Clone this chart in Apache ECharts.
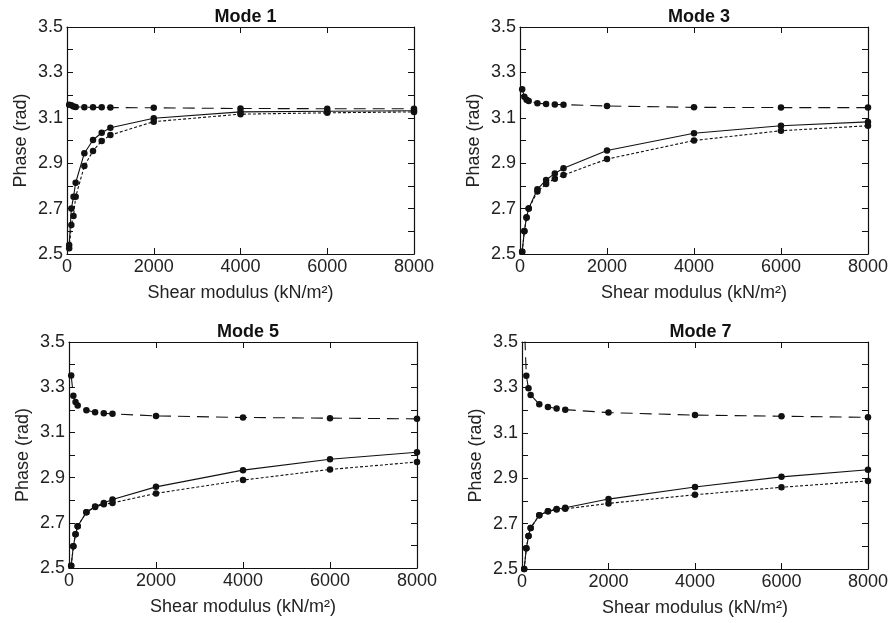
<!DOCTYPE html>
<html>
<head>
<meta charset="utf-8">
<script src="https://cdn.jsdelivr.net/npm/echarts@6/dist/echarts.min.js"></script>
<style>
  html, body { margin: 0; padding: 0; background: #fff; }
  #chart { width: 891px; height: 623px; }
</style>
</head>
<body>
<div id="chart"></div>
<script>
// shear modulus values (kN/m2)
var shearModulus = [50, 100, 150, 200, 400, 600, 800, 1000, 2000, 4000, 6000, 8000];
var modeTitles = ['Mode 1', 'Mode 3', 'Mode 5', 'Mode 7'];
var xTicks = [0, 2000, 4000, 6000, 8000];
var yTickLabels = ['2.5', '2.7', '2.9', '3.1', '3.3', '3.5'];

// phase (rad): long dash / solid / short dash
var mode1Dashed = [3.158, 3.155, 3.150, 3.148, 3.147, 3.146, 3.146, 3.145, 3.144, 3.141, 3.140, 3.140];
var mode1Solid  = [2.540, 2.700, 2.752, 2.814, 2.944, 3.002, 3.034, 3.056, 3.098, 3.126, 3.129, 3.131];
var mode1Dotted = [2.525, 2.628, 2.667, 2.752, 2.888, 2.954, 2.998, 3.024, 3.083, 3.116, 3.122, 3.126];

var mode3Dashed = [3.226, 3.193, 3.180, 3.174, 3.164, 3.161, 3.159, 3.158, 3.152, 3.146, 3.145, 3.145];
var mode3Solid  = [2.510, 2.601, 2.662, 2.700, 2.785, 2.826, 2.855, 2.878, 2.956, 3.032, 3.065, 3.082];
var mode3Dotted = [2.510, 2.600, 2.660, 2.700, 2.775, 2.808, 2.832, 2.848, 2.918, 3.000, 3.043, 3.065];

var mode5Dashed = [3.352, 3.262, 3.234, 3.219, 3.198, 3.189, 3.185, 3.182, 3.173, 3.166, 3.163, 3.160];
var mode5Solid  = [2.510, 2.596, 2.649, 2.685, 2.747, 2.772, 2.788, 2.803, 2.859, 2.933, 2.981, 3.012];
var mode5Dotted = [2.510, 2.596, 2.649, 2.685, 2.747, 2.770, 2.782, 2.788, 2.830, 2.889, 2.936, 2.969];

var mode7Dashed = [3.600, 3.351, 3.296, 3.267, 3.226, 3.214, 3.207, 3.202, 3.189, 3.178, 3.173, 3.168];
var mode7Solid  = [2.500, 2.591, 2.645, 2.681, 2.737, 2.754, 2.764, 2.770, 2.808, 2.861, 2.906, 2.937];
var mode7Dotted = [2.500, 2.591, 2.645, 2.681, 2.737, 2.754, 2.762, 2.765, 2.789, 2.827, 2.860, 2.888];

var modeData = [
  [mode1Dashed, mode1Solid, mode1Dotted],
  [mode3Dashed, mode3Solid, mode3Dotted],
  [mode5Dashed, mode5Solid, mode5Dotted],
  [mode7Dashed, mode7Solid, mode7Dotted]
];

var grids = [
  { left: 67,  top: 27,  width: 347, height: 227 },
  { left: 520, top: 27,  width: 348, height: 227 },
  { left: 69,  top: 342, width: 348, height: 226 },
  { left: 522, top: 342, width: 347, height: 227 }
];

var font = '"Liberation Sans", Arial, Helvetica, sans-serif';
var ink = '#111';

function pairs(ys) {
  return shearModulus.map(function (x, i) { return [x, ys[i]]; });
}

var chart = echarts.init(document.getElementById('chart'));

var title = [], xAxis = [], yAxis = [], series = [];
var lineKinds = [
  { type: [12, 7], width: 1.1 },
  { type: 'solid', width: 1.1 },
  { type: [3, 2],  width: 1.1 }
];

grids.forEach(function (g, i) {
  title.push({
    text: modeTitles[i],
    left: g.left + g.width / 2,
    top: g.top - 24,
    textAlign: 'center',
    textStyle: { fontFamily: font, fontSize: 18, fontWeight: 'bold', color: ink }
  });

  var tickStyle = { show: true, inside: true, length: 6, lineStyle: { color: ink, width: 1 } };
  var lineStyle = { show: true, onZero: false, lineStyle: { color: ink, width: 1.2 } };

  xAxis.push({
    type: 'value', gridIndex: i, position: 'bottom',
    min: xTicks[0], max: xTicks[xTicks.length - 1], interval: 2000,
    name: 'Shear modulus (kN/m²)', nameLocation: 'middle', nameGap: 30,
    nameTextStyle: { fontFamily: font, fontSize: 18, color: '#222' },
    axisLine: lineStyle, axisTick: tickStyle, splitLine: { show: false },
    axisLabel: {
      margin: 4, fontFamily: font, fontSize: 18, color: '#222',
      formatter: function (v) { return String(v); }
    }
  });
  xAxis.push({
    type: 'value', gridIndex: i, position: 'top',
    min: xTicks[0], max: xTicks[xTicks.length - 1], interval: 2000,
    axisLine: lineStyle, axisTick: tickStyle, splitLine: { show: false },
    axisLabel: { show: false }
  });

  yAxis.push({
    type: 'value', gridIndex: i, position: 'left',
    min: 2.5, max: 3.5, interval: 0.1,
    name: 'Phase (rad)', nameLocation: 'middle', nameGap: 37,
    nameTextStyle: { fontFamily: font, fontSize: 18, color: '#222' },
    axisLine: lineStyle, axisTick: tickStyle, splitLine: { show: false },
    axisLabel: {
      margin: 4, fontFamily: font, fontSize: 18, color: '#222',
      formatter: function (v) {
        var s = v.toFixed(1);
        return yTickLabels.indexOf(s) >= 0 ? s : '';
      }
    }
  });
  yAxis.push({
    type: 'value', gridIndex: i, position: 'right',
    min: 2.5, max: 3.5, interval: 0.1,
    axisLine: lineStyle, axisTick: tickStyle, splitLine: { show: false },
    axisLabel: { show: false }
  });

  modeData[i].forEach(function (ys, k) {
    series.push({
      type: 'line',
      xAxisIndex: i * 2,
      yAxisIndex: i * 2,
      data: pairs(ys),
      clip: true,
      symbol: 'circle',
      symbolSize: 6.5,
      itemStyle: { color: ink },
      lineStyle: { color: ink, width: lineKinds[k].width, type: lineKinds[k].type },
      animation: false
    });
  });
});

chart.setOption({
  backgroundColor: '#fff',
  animation: false,
  title: title,
  grid: grids,
  xAxis: xAxis,
  yAxis: yAxis,
  series: series
});
</script>
</body>
</html>
